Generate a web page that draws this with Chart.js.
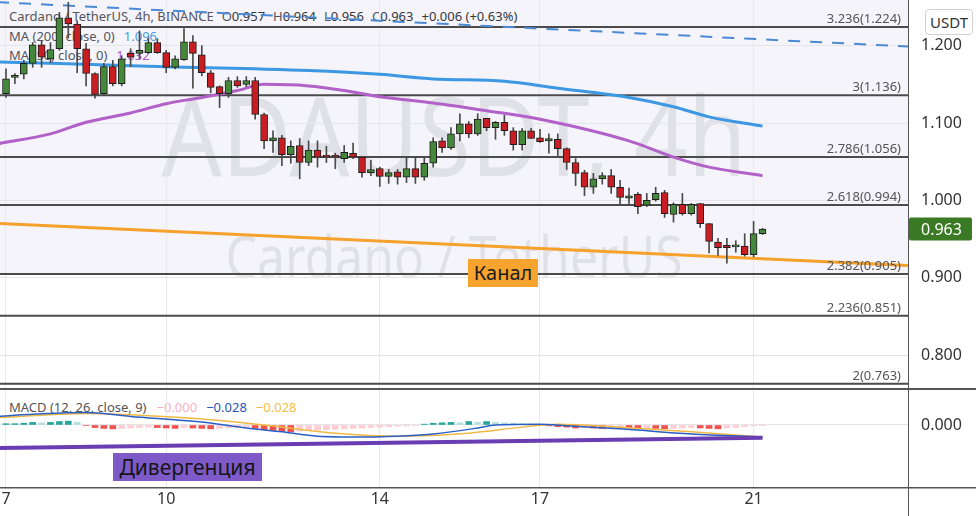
<!DOCTYPE html>
<html>
<head>
<meta charset="utf-8">
<script src="https://cdn.jsdelivr.net/npm/chart.js@4.4.1/dist/chart.umd.min.js"></script>
<style>
html,body{margin:0;padding:0;background:#fff;}
#wrap{position:relative;width:976px;height:516px;overflow:hidden;font-family:"Noto Sans",sans-serif;background:#fff;}
canvas{position:absolute;left:0;z-index:2;}
#c1{top:0;}
#c2{top:390px;}
.bg{position:absolute;z-index:1;white-space:nowrap;}
.wm{color:rgba(60,60,75,0.11);text-align:center;left:0;width:908px;transform-origin:454px 0;}
.lg{font-size:13px;line-height:13px;color:#555;left:9px;}
.lg b{font-weight:normal;color:#333;}
.sp{margin-left:8px;}
.fg{position:absolute;z-index:3;white-space:nowrap;text-align:center;}
</style>
</head>
<body>
<div id="wrap">
  <div class="bg wm" style="top:78px;font-size:110px;line-height:110px;transform:scaleX(0.86);">ADAUSDT, 4h</div>
  <div class="bg wm" style="top:227px;font-size:58px;line-height:58px;transform:scaleX(0.86);">Cardano / TetherUS</div>

  <div class="bg lg" style="top:10px;">Cardano / TetherUS, 4h, BINANCE<span class="sp">O<b id="vO"></b></span><span class="sp">H<b id="vH"></b></span><span class="sp">L<b id="vL"></b></span><span class="sp">C<b id="vC"></b></span><span class="sp"><b id="vChg"></b></span></div>
  <div class="bg lg" style="top:30px;">MA (200, close, 0)<span id="vMA200" style="margin-left:9px;color:#4aa0e0;"></span></div>
  <div class="bg lg" style="top:49px;">MA (50, close, 0)<span id="vMA50" style="margin-left:9px;color:#b462c8;"></span></div>
  <div class="bg lg" style="top:401px;">MACD (12, 26, close, 9)<span id="vHist" style="margin-left:10px;color:#f4b3c0;"></span><span id="vMacd" style="margin-left:9px;color:#2a57b8;"></span><span id="vSig" style="margin-left:9px;color:#f0bf45;"></span></div>

  <canvas id="c1" width="976" height="390"></canvas>
  <canvas id="c2" width="976" height="126"></canvas>

  <div class="fg" style="left:468px;top:259px;width:70px;height:28px;line-height:28px;background:#f6a42d;color:#1a1a1a;font-size:20px;">Канал</div>
  <div class="fg" style="left:113px;top:453px;width:149px;height:28px;line-height:28px;background:#7e5ac9;color:#151515;font-size:21px;">Дивергенция</div>
  <div class="fg" style="left:925px;top:9px;width:46px;height:24px;line-height:24px;border:1px solid #d2d2d2;border-radius:4px;background:#fff;color:#333;font-size:15px;">USDT</div>
</div>

<script>
// ---------------- data ----------------
const dayLabels = ['7', '10', '14', '17', '21'];
const dayIndex  = [0, 18, 42, 60, 84];
const priceTicks = [0.8, 0.9, 1.0, 1.1, 1.2];

const opens  = [1.138,1.159,1.163,1.177,1.201,1.183,1.196,1.236,1.228,1.196,1.164,1.138,1.173,1.151,1.190,1.190,1.191,1.204,1.191,1.172,
                1.182,1.205,1.188,1.165,1.147,1.138,1.155,1.150,1.155,1.111,1.077,1.081,1.059,1.071,1.049,1.065,1.057,1.057,1.054,1.061,
                1.056,1.036,1.041,1.031,1.037,1.030,1.041,1.030,1.048,1.077,1.068,1.086,1.099,1.086,1.106,1.094,1.101,1.090,1.072,1.090,
                1.081,1.077,1.079,1.067,1.049,1.036,1.017,1.028,1.032,1.017,1.003,1.008,0.994,1.001,1.010,0.982,0.995,0.983,0.996,0.970,
                0.946,0.942,0.940,0.941,0.930,0.957];
const highs  = [1.170,1.164,1.181,1.204,1.206,1.204,1.243,1.256,1.232,1.203,1.165,1.177,1.181,1.187,1.196,1.219,1.210,1.209,1.194,1.187,
                1.222,1.213,1.200,1.168,1.148,1.159,1.160,1.160,1.159,1.113,1.090,1.084,1.077,1.080,1.077,1.077,1.070,1.061,1.071,1.074,
                1.057,1.052,1.043,1.040,1.040,1.056,1.056,1.056,1.081,1.081,1.094,1.112,1.102,1.112,1.106,1.102,1.110,1.094,1.093,1.093,
                1.092,1.086,1.086,1.068,1.054,1.039,1.035,1.036,1.040,1.026,1.016,1.010,1.009,1.017,1.013,0.997,1.009,0.996,0.996,0.970,
                0.951,0.951,0.948,0.957,0.973,0.964];
const lows   = [1.133,1.151,1.157,1.172,1.172,1.178,1.194,1.210,1.165,1.148,1.132,1.136,1.148,1.148,1.173,1.183,1.190,1.190,1.165,1.170,
                1.181,1.145,1.161,1.139,1.120,1.133,1.146,1.147,1.105,1.067,1.062,1.045,1.048,1.028,1.045,1.043,1.049,1.041,1.049,1.054,
                1.030,1.032,1.018,1.022,1.021,1.023,1.022,1.026,1.043,1.062,1.066,1.077,1.081,1.084,1.090,1.079,1.084,1.065,1.065,1.080,
                1.075,1.061,1.058,1.040,1.019,1.006,1.009,1.021,1.009,0.995,0.994,0.983,0.992,0.999,0.978,0.972,0.981,0.981,0.965,0.932,
                0.929,0.919,0.933,0.928,0.927,0.956];
const closes = [1.157,1.160,1.177,1.201,1.185,1.195,1.236,1.228,1.196,1.164,1.137,1.173,1.151,1.183,1.185,1.194,1.204,1.191,1.172,1.183,
                1.205,1.190,1.165,1.146,1.138,1.155,1.148,1.155,1.111,1.077,1.081,1.059,1.070,1.049,1.065,1.056,1.056,1.056,1.062,1.056,
                1.036,1.040,1.031,1.036,1.030,1.041,1.030,1.048,1.076,1.068,1.086,1.099,1.086,1.105,1.094,1.101,1.090,1.072,1.090,1.080,
                1.076,1.080,1.067,1.049,1.035,1.017,1.028,1.032,1.017,1.004,1.006,0.992,1.000,1.009,0.983,0.995,0.983,0.995,0.970,0.947,
                0.939,0.939,0.941,0.930,0.957,0.963];

const ma200Idx = [-1, 6, 14, 20, 28, 34, 42, 48, 56, 62, 70, 75, 79, 85];
const ma200Val = [1.179, 1.177, 1.174, 1.172, 1.170, 1.168, 1.163, 1.157, 1.154, 1.145, 1.133, 1.121, 1.108, 1.096];
const ma50Idx  = [-1, 5, 9, 14, 18, 22, 26, 29, 34, 38, 42, 48, 54, 60, 70, 75, 79, 85];
const ma50Val  = [1.073, 1.086, 1.101, 1.113, 1.125, 1.133, 1.142, 1.150, 1.148, 1.142, 1.134, 1.126, 1.116, 1.105, 1.077, 1.056, 1.043, 1.032];

const fibRatios = ['3.236', '3', '2.786', '2.618', '2.382', '2.236', '2'];
const fibPrices = [1.224, 1.136, 1.056, 0.994, 0.905, 0.851, 0.763];

const trendIdx    = [-1, 102];
const resistTop   = [1.2562, 1.1986];   // dashed blue line
const channelLine = [0.9702, 0.9157];   // orange "Канал"

const histVals = [0.003,0.003,0.004,0.006,0.005,0.006,0.008,0.009,0.006,-0.001,
                  -0.006,-0.008,-0.009,-0.008,-0.007,-0.006,-0.005,-0.006,-0.007,-0.008,
                  -0.006,-0.007,-0.008,-0.009,-0.008,-0.007,-0.006,-0.005,-0.008,-0.011,
                  -0.013,-0.015,-0.016,-0.014,-0.013,-0.012,-0.011,-0.010,-0.009,-0.008,
                  -0.007,-0.006,-0.005,-0.004,-0.003,-0.002,-0.001,0.002,0.004,0.005,
                  0.006,0.005,0.008,0.006,0.008,0.006,0.005,0.004,0.003,0.002,
                  0.001,-0.002,-0.004,-0.005,-0.007,-0.006,-0.007,-0.008,-0.007,-0.006,
                  -0.007,-0.008,-0.007,-0.008,-0.009,-0.008,-0.007,-0.006,-0.007,-0.008,
                  -0.009,-0.007,-0.006,-0.004,-0.002,-0.0004];
const macdIdx   = [-1, 4, 9, 14, 22, 27, 31, 35, 41, 44, 48, 53, 55, 60, 63, 69, 77, 85];
const macdVal   = [0.020, 0.026, 0.029, 0.020, 0.007, -0.007, -0.016, -0.026, -0.028, -0.026, -0.021, -0.007, 0.000, 0.002, -0.002, -0.009, -0.021, -0.028];
const signalIdx = [-1, 9, 14, 22, 29, 37, 44, 52, 58, 62, 69, 77, 85];
const signalVal = [0.017, 0.027, 0.024, 0.014, 0.000, -0.019, -0.026, -0.019, -0.005, 0.002, -0.005, -0.016, -0.028];
const divIdx = [-1, 85];
const divVal = [-0.054, -0.030];

// ---------------- helpers ----------------
Chart.defaults.font.family = '"Noto Sans", sans-serif';
const X_MIN = -0.674, X_MAX = 101.35;
const candleX = opens.map((_, i) => i);
const pts = (xs, ys) => xs.map((x, k) => ({x: x, y: ys[k]}));
const last = closes.length - 1;
const MINUS = '\u2212';
const fmt = v => (v < 0 || Object.is(v, -0) ? MINUS : '') + Math.abs(v).toFixed(3);

document.getElementById('vO').textContent = opens[last].toFixed(3);
document.getElementById('vH').textContent = highs[last].toFixed(3);
document.getElementById('vL').textContent = lows[last].toFixed(3);
document.getElementById('vC').textContent = closes[last].toFixed(3);
const chg = closes[last] - closes[last - 1];
document.getElementById('vChg').textContent = (chg >= 0 ? '+' : MINUS) + Math.abs(chg).toFixed(3) + ' (' + (chg >= 0 ? '+' : MINUS) + Math.abs(chg / closes[last - 1] * 100).toFixed(2) + '%)';
document.getElementById('vMA200').textContent = ma200Val[ma200Val.length - 1].toFixed(3);
document.getElementById('vMA50').textContent = ma50Val[ma50Val.length - 1].toFixed(3);
document.getElementById('vHist').textContent = fmt(histVals[histVals.length - 1]);
document.getElementById('vMacd').textContent = fmt(macdVal[macdVal.length - 1]);
document.getElementById('vSig').textContent = fmt(signalVal[signalVal.length - 1]);

const zeroPad = s => { s.paddingLeft = 0; s.paddingRight = 0; s.paddingTop = 0; s.paddingBottom = 0; };

// ---------------- price pane ----------------
const pricePlugin = {
  id: 'pricePane',
  beforeDraw(chart) {
    const {ctx, chartArea: a, scales: {y}} = chart;
    ctx.save();
    ctx.fillStyle = 'rgba(110,110,190,0.075)';
    const yb = y.getPixelForValue(fibPrices[4]);
    ctx.fillRect(a.left, a.top, a.right - a.left, yb - a.top);
    ctx.restore();
  },
  afterDatasetsDraw(chart) {
    const {ctx, chartArea: a, scales: {y}} = chart;
    ctx.save();
    ctx.font = '13px "Noto Sans"';
    ctx.fillStyle = '#555';
    ctx.textAlign = 'right';
    ctx.textBaseline = 'alphabetic';
    fibPrices.forEach((p, k) => {
      ctx.fillText(fibRatios[k] + '(' + p.toFixed(3) + ')', a.right - 7, y.getPixelForValue(p) - 4);
    });
    ctx.restore();
  },
  afterDraw(chart) {
    const {ctx, chartArea: a, scales: {y}} = chart;
    ctx.save();
    ctx.fillStyle = '#555';
    ctx.fillRect(a.right, 0, 1, chart.height);
    ctx.fillRect(0, a.bottom - 2, chart.width, 2);
    const py = y.getPixelForValue(closes[last]);
    ctx.fillStyle = '#3b7a24';
    ctx.beginPath();
    ctx.roundRect(a.right + 1, py - 11.5, 63, 23, 2);
    ctx.fill();
    ctx.fillStyle = '#fff';
    ctx.font = '16px "Noto Sans"';
    ctx.textAlign = 'left';
    ctx.textBaseline = 'middle';
    ctx.fillText(closes[last].toFixed(3), a.right + 13, py + 1);
    ctx.restore();
  }
};

const lineDs = (data, color, width, order, extra) => Object.assign({
  type: 'line', data: data, borderColor: color, backgroundColor: color, borderWidth: width,
  pointRadius: 0, fill: false, order: order
}, extra || {});

const priceDatasets = [];
fibPrices.forEach(p => priceDatasets.push(lineDs(pts(trendIdx, [p, p]), '#4b4b4b', 2, 30)));
priceDatasets.push(lineDs(pts(trendIdx, resistTop), '#4b89d4', 2, 20, {borderDash: [12, 10]}));
priceDatasets.push(lineDs(pts(trendIdx, channelLine), '#f5a12b', 3, 20));
priceDatasets.push(lineDs(pts(ma200Idx, ma200Val), '#3c98e2', 3, 15, {cubicInterpolationMode: 'monotone'}));
priceDatasets.push(lineDs(pts(ma50Idx, ma50Val), '#b261c9', 3, 15, {cubicInterpolationMode: 'monotone'}));
priceDatasets.push({
  type: 'bar', data: candleX.map(i => ({x: i, y: [lows[i], highs[i]]})),
  backgroundColor: '#4a4a4a', barThickness: 1, grouped: false, order: 5
});
priceDatasets.push({
  type: 'bar', data: candleX.map(i => ({x: i, y: [opens[i], closes[i]]})),
  backgroundColor: ctx => closes[ctx.dataIndex] >= opens[ctx.dataIndex] ? '#45883b' : '#c81e23',
  borderColor: '#1e1e1e', borderWidth: 1, borderSkipped: false, minBarLength: 2,
  barThickness: 7, grouped: false, order: 1
});

new Chart(document.getElementById('c1'), {
  type: 'bar',
  data: {datasets: priceDatasets},
  options: {
    responsive: false, animation: false, devicePixelRatio: 1,
    layout: {padding: 0},
    plugins: {legend: {display: false}, tooltip: {enabled: false}},
    scales: {
      x: {
        type: 'linear', min: X_MIN, max: X_MAX, offset: false,
        afterBuildTicks: s => { s.ticks = dayIndex.map(v => ({value: v})); },
        ticks: {display: false},
        grid: {color: '#e8e8ee', drawTicks: false, offset: false},
        border: {display: false},
        afterFit: s => { s.height = 0; zeroPad(s); }
      },
      y: {
        position: 'right', min: 0.755, max: 1.259,
        afterBuildTicks: s => { s.ticks = priceTicks.map(v => ({value: v})); },
        ticks: {color: '#333', font: {size: 16}, padding: 13, callback: v => Number(v).toFixed(3)},
        grid: {color: '#e4e4ea', drawTicks: false},
        border: {display: false},
        afterFit: s => { s.width = 68; zeroPad(s); }
      }
    }
  },
  plugins: [pricePlugin]
});

// ---------------- MACD pane ----------------
const histColor = i => {
  const v = histVals[i], p = i > 0 ? histVals[i - 1] : v;
  if (v >= 0) return v >= p ? '#26a69a' : '#b2dfdb';
  return v <= p ? '#ef5350' : '#ffcdd2';
};
const macdPlugin = {
  id: 'macdPane',
  afterDraw(chart) {
    const {ctx, chartArea: a} = chart;
    ctx.save();
    ctx.fillStyle = '#555';
    ctx.fillRect(a.right, 0, 1, chart.height);
    ctx.fillRect(0, a.bottom, chart.width, 1.5);
    ctx.restore();
  }
};

new Chart(document.getElementById('c2'), {
  type: 'bar',
  data: {datasets: [
    {type: 'bar', data: candleX.map(i => ({x: i, y: histVals[i]})),
     backgroundColor: ctx => histColor(ctx.dataIndex), barThickness: 6, grouped: false, order: 10},
    lineDs(pts(signalIdx, signalVal), '#f1b843', 1.5, 4, {cubicInterpolationMode: 'monotone'}),
    lineDs(pts(macdIdx, macdVal), '#2a5fc4', 1.5, 3, {cubicInterpolationMode: 'monotone'}),
    lineDs(pts(divIdx, divVal), '#6a3db2', 4, 1)
  ]},
  options: {
    responsive: false, animation: false, devicePixelRatio: 1,
    layout: {padding: {top: 1, left: 0, right: 0, bottom: 0}},
    plugins: {legend: {display: false}, tooltip: {enabled: false}},
    scales: {
      x: {
        type: 'linear', min: X_MIN, max: X_MAX, offset: false,
        afterBuildTicks: s => { s.ticks = dayIndex.map(v => ({value: v})); },
        ticks: {color: '#333', font: {size: 16}, padding: 3, autoSkip: false, maxRotation: 0,
                callback: v => dayLabels[dayIndex.indexOf(v)]},
        grid: {color: '#e8e8ee', drawTicks: false, offset: false},
        border: {display: false},
        afterFit: s => { s.height = 29; zeroPad(s); }
      },
      y: {
        position: 'right', min: -0.1447, max: 0.0793,
        afterBuildTicks: s => { s.ticks = [{value: 0}]; },
        ticks: {color: '#333', font: {size: 16}, padding: 13, callback: v => Number(v).toFixed(3)},
        grid: {color: '#e4e4ea', drawTicks: false},
        border: {display: false},
        afterFit: s => { s.width = 68; zeroPad(s); }
      }
    }
  },
  plugins: [macdPlugin]
});
</script>
</body>
</html>
